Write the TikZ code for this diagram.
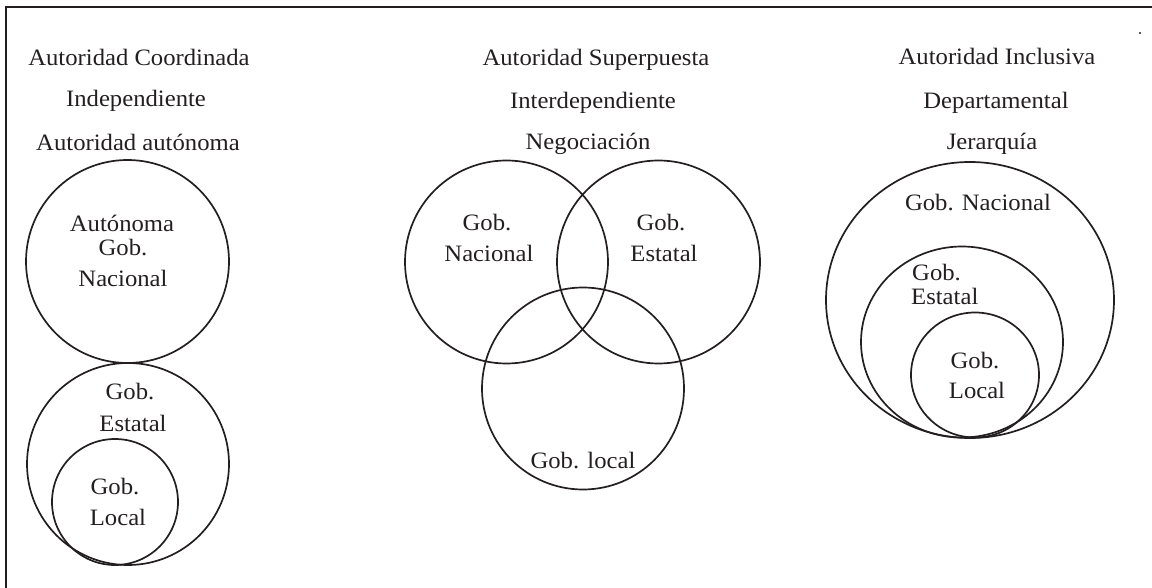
\documentclass[tikz,border=0pt]{standalone}
\usepackage{fontspec}
\setmainfont{Liberation Serif}[FakeStretch=1.05]
\definecolor{ink}{HTML}{231F20}
\begin{document}
\begin{tikzpicture}[x=1pt,y=-1pt,
  lbl/.style={anchor=base,inner sep=0pt,text=ink,font=\fontsize{23.5}{28}\selectfont},
  ring/.style={draw=ink,line width=1.7pt},
  frameline/.style={draw=ink,line width=1.2pt}]
\useasboundingbox (0,0) rectangle (1152,588);
% frame (top and left sides only)
\coordinate (fa) at (1152,7);
\coordinate (fb) at (6,7);
\coordinate (fc) at (6,588);
\draw[frameline] (fa) -- (fb) -- (fc);
\fill[ink] (1140,33) circle (1.1);
% left column
\node[lbl] (l1) at (139,66) {Autoridad Coordinada};
\node[lbl] (l2) at (136,107) {Independiente};
\node[lbl] (l3) at (138,151) {Autoridad autónoma};
\draw[ring] (127.5,261.5) circle (101.5);
\draw[ring] (128,464) circle (101);
\draw[ring] (115,502) circle (63);
\node[lbl] (la1) at (122,232) {Autónoma};
\node[lbl] (la2) at (123,256) {Gob.};
\node[lbl] (la3) at (123,287) {Nacional};
\node[lbl] (le1) at (130,399) {Gob.};
\node[lbl] (le2) at (133,431) {Estatal};
\node[lbl] (ll1) at (115,494) {Gob.};
\node[lbl] (ll2) at (118,525) {Local};
% middle column
\node[lbl] (m1) at (596,66) {Autoridad Superpuesta};
\node[lbl] (m2) at (593,109) {Interdependiente};
\node[lbl] (m3) at (588,150) {Negociación};
\draw[ring] (506.5,262) circle (101.5);
\draw[ring] (658.5,262) circle (101.5);
\draw[ring] (583,388.5) circle (101);
\node[lbl] (mn1) at (487,231) {Gob.};
\node[lbl] (mn2) at (489,262) {Nacional};
\node[lbl] (me1) at (661,231) {Gob.};
\node[lbl] (me2) at (664,262) {Estatal};
\node[lbl] (ml) at (583,468) {Gob. local};
% right column
\node[lbl] (r1) at (997,65) {Autoridad Inclusiva};
\node[lbl] (r2) at (996,109) {Departamental};
\node[lbl] (r3) at (992,150) {Jerarquía};
\draw[ring] (970,300) ellipse (144 and 138);
\draw[ring] (962,342) ellipse (101 and 95.5);
\draw[ring] (975,375) ellipse (64 and 62.5);
\node[lbl] (rn) at (978,211) {Gob. Nacional};
\node[lbl,anchor=base west] (re1) at (912,280) {Gob.};
\node[lbl,anchor=base west] (re2) at (911,305) {Estatal};
\node[lbl] (rl1) at (975,368) {Gob.};
\node[lbl] (rl2) at (977,398) {Local};
\end{tikzpicture}
\end{document}
